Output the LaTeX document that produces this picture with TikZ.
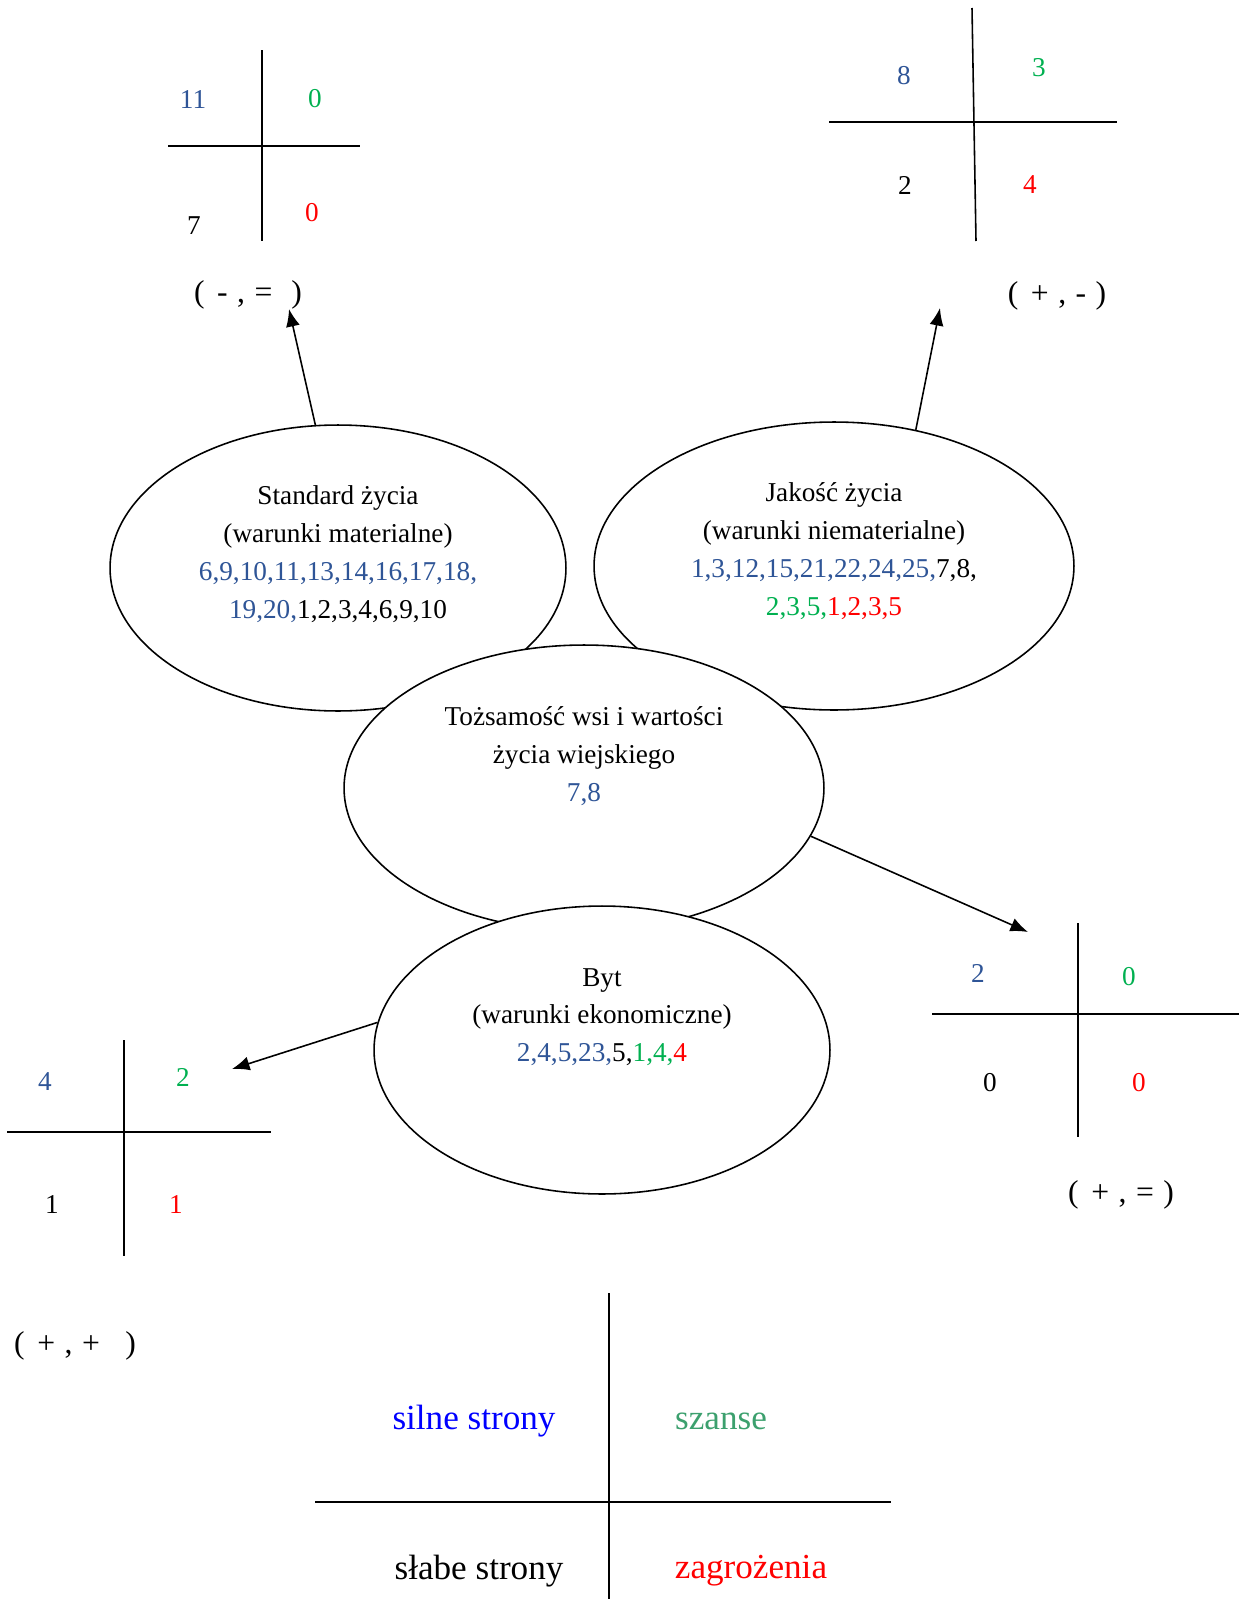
\documentclass[tikz,border=0pt]{standalone}
\usepackage{fontspec}
\setmainfont{Liberation Serif}
\usetikzlibrary{shapes.geometric,arrows.meta}
\definecolor{nblue}{RGB}{47,85,151}
\definecolor{ngreen}{RGB}{0,176,80}
\definecolor{nred}{RGB}{255,0,0}
\definecolor{lblue}{RGB}{0,0,255}
\definecolor{lgreen}{RGB}{60,160,110}
\begin{document}
\begin{tikzpicture}[x=0.02cm,y=-0.02cm,
  txt/.style={font=\fontsize{15.5pt}{21.5pt}\selectfont, inner sep=0pt, align=center},
  sgn/.style={font=\fontsize{18pt}{22pt}\selectfont, inner sep=0pt},
  big/.style={font=\fontsize{20pt}{24pt}\selectfont, inner sep=0pt},
  oval/.style={ellipse, draw, fill=white, line width=0.9pt, inner sep=0pt},
  ln/.style={line width=0.9pt},
  arr/.style={line width=0.9pt, -{Latex[length=10pt,width=8pt]}}]
\useasboundingbox (0,0) rectangle (1240,1599);

% ellipses
\node[oval, minimum width=9.12cm, minimum height=5.72cm] (std) at (338,568) {};
\node[oval, minimum width=9.6cm, minimum height=5.76cm] (jak) at (834,566) {};
\node[oval, minimum width=9.6cm, minimum height=5.72cm] (toz) at (584,788) {};
\node[oval, minimum width=9.12cm, minimum height=5.76cm] (byt) at (602,1050) {};

\node[txt] (stdt) at (338,554) {Standard życia\\(warunki materialne)\\\textcolor{nblue}{6,9,10,11,13,14,16,17,18,}\\\textcolor{nblue}{19,20,}1,2,3,4,6,9,10};
\node[txt] (jakt) at (834,551) {Jakość życia\\(warunki niematerialne)\\\textcolor{nblue}{1,3,12,15,21,22,24,25,}7,8,\\\textcolor{ngreen}{2,3,5,}\textcolor{nred}{1,2,3,5}};
\node[txt] (tozt) at (584,756) {Tożsamość wsi i wartości\\życia wiejskiego\\\textcolor{nblue}{7,8}};
\node[txt] (bytt) at (602,1017) {Byt\\(warunki ekonomiczne)\\\textcolor{nblue}{2,4,5,23,}5,\textcolor{ngreen}{1,4,}\textcolor{nred}{4}};

% arrow ends
\coordinate (a1) at (289,309);
\coordinate (a2) at (940,308);
\coordinate (a3) at (1028,932);
\coordinate (a4) at (232,1069);
\draw[arr] (std.99) -- (a1);
\draw[arr] (jak.59) -- (a2);
\draw[arr] (toz.-12) -- (a3);
\draw[arr] (byt.173) -- (a4);

% top-left cross
\draw[ln] (262,50) -- (262,241);
\draw[ln] (168,146) -- (360,146);
\node[txt, text=nblue] (tl1) at (193,100) {11};
\node[txt, text=ngreen] (tl2) at (315,99) {0};
\node[txt] (tl3) at (194,226) {7};
\node[txt, text=nred] (tl4) at (312,213) {0};
\node[sgn] (tll) at (248,295) {(\hspace{0.4em}-\hspace{0.3em},\hspace{0.3em}=\hspace{0.6em})};

% top-right cross
\draw[ln] (972,8) -- (976,241);
\draw[ln] (829,122) -- (1117,122);
\node[txt, text=nblue] (tr1) at (904,76) {8};
\node[txt, text=ngreen] (tr2) at (1039,68) {3};
\node[txt] (tr3) at (905,185) {2};
\node[txt, text=nred] (tr4) at (1030,185) {4};
\node[sgn] (trl) at (1057,296) {(\hspace{0.4em}+\hspace{0.3em},\hspace{0.3em}-\hspace{0.3em})};

% right cross
\draw[ln] (1078,923) -- (1078,1137);
\draw[ln] (932,1014) -- (1239,1014);
\node[txt, text=nblue] (r1) at (978,973) {2};
\node[txt, text=ngreen] (r2) at (1129,977) {0};
\node[txt] (r3) at (990,1083) {0};
\node[txt, text=nred] (r4) at (1139,1083) {0};
\node[sgn] (rl) at (1121,1195) {(\hspace{0.4em}+\hspace{0.3em},\hspace{0.3em}=\hspace{0.3em})};

% left cross
\draw[ln] (124,1040) -- (124,1256);
\draw[ln] (7,1132) -- (271,1132);
\node[txt, text=nblue] (l1) at (45,1082) {4};
\node[txt, text=ngreen] (l2) at (183,1077) {2};
\node[txt] (l3) at (52,1204) {1};
\node[txt, text=nred] (l4) at (176,1204) {1};
\node[sgn] (ll) at (75,1346) {(\hspace{0.4em}+\hspace{0.3em},\hspace{0.3em}+\hspace{0.8em})};

% legend cross
\draw[ln] (609,1293) -- (609,1599);
\draw[ln] (315,1502) -- (891,1502);
\node[big, text=lblue] (g1) at (474,1421) {silne strony};
\node[big, text=lgreen] (g2) at (721,1421) {szanse};
\node[big] (g3) at (479,1571) {słabe strony};
\node[big, text=nred] (g4) at (751,1571) {zagrożenia};
\end{tikzpicture}
\end{document}
